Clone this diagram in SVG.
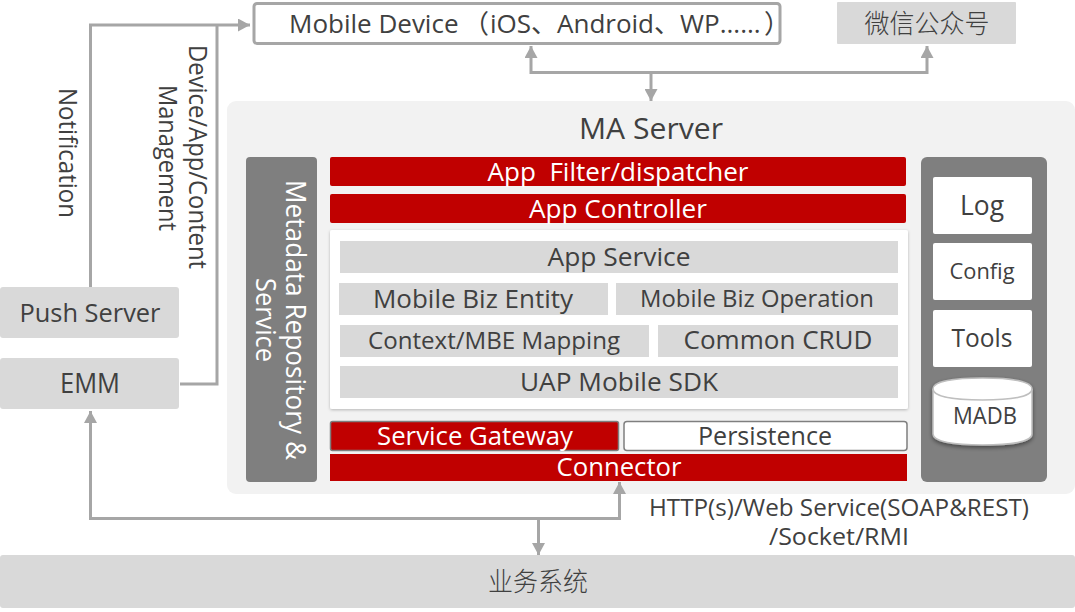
<svg xmlns="http://www.w3.org/2000/svg" width="1075" height="612" viewBox="0 0 1075 612" font-size="26">
<style>
text{font-family:"Open Sans","Noto Sans CJK SC",sans-serif;fill:#404040;text-anchor:middle}
.cjk{font-family:"Noto Sans CJK SC",sans-serif;font-weight:300}
.w{fill:#fff}
.g{fill:#d9d9d9}
.r{fill:#c00000}
.d{fill:#7f7f7f}
.line{fill:none;stroke:#a6a6a6;stroke-width:3}
</style>
<defs>
<marker id="a" markerUnits="userSpaceOnUse" markerWidth="13" markerHeight="13" refX="12" refY="6.500" orient="auto-start-reverse"><path d="M0 0L12 6.500L0 13Z" fill="#a6a6a6"/></marker>
<filter id="s" x="-5%" y="-5%" width="110%" height="112%"><feDropShadow dx="0" dy="1" stdDeviation="1.500" flood-color="#000" flood-opacity=".25"/></filter>
<filter id="s2" x="-8%" y="-8%" width="116%" height="120%"><feDropShadow dx="0" dy="2" stdDeviation="2" flood-color="#000" flood-opacity=".45"/></filter>
</defs>
<rect width="1075" height="612" fill="#fff"/>
<g id="ma-server"><rect x="227" y="101" width="848" height="393" rx="9" fill="#f2f2f2"/><text x="651" y="139" font-size="30" textLength="144" lengthAdjust="spacingAndGlyphs">MA Server</text></g>
<g id="connectors">
<path class="line" d="M90.500 287V25H250" marker-end="url(#a)"/>
<path class="line" d="M180 384H217V25"/>
<path class="line" d="M531 46V72.500H927V46" marker-start="url(#a)" marker-end="url(#a)"/>
<path class="line" d="M651 72V101" marker-end="url(#a)"/>
<path class="line" d="M90.500 411V518.500H619.500V482" marker-start="url(#a)" marker-end="url(#a)"/>
<path class="line" d="M538.500 519V555" marker-end="url(#a)"/>
</g>
<g id="mobile-device"><rect x="254" y="3.500" width="526" height="40" rx="3" fill="#fff" stroke="#a6a6a6" stroke-width="3"/><text style="text-anchor:start" y="33"><tspan x="289">Mobile Device</tspan><tspan x="463">（</tspan><tspan x="490">iOS、</tspan><tspan x="557">Android、WP......</tspan><tspan x="764">）</tspan></text></g>
<g id="wechat"><rect class="g" x="837" y="2" width="179" height="42" rx="1"/><text class="cjk" x="927" y="33" textLength="125" lengthAdjust="spacingAndGlyphs">微信公众号</text></g>
<g id="push-server"><rect class="g" x="0" y="287" width="179" height="51" rx="3"/><text x="90" y="322" textLength="141" lengthAdjust="spacingAndGlyphs">Push Server</text></g>
<g id="emm"><rect class="g" x="0" y="358" width="179" height="51" rx="3"/><text x="90" y="393" font-size="27" textLength="60" lengthAdjust="spacingAndGlyphs">EMM</text></g>
<g id="business"><rect class="g" x="0" y="555" width="1075" height="53" rx="3"/><text class="cjk" x="538" y="591" textLength="100" lengthAdjust="spacingAndGlyphs">业务系统</text></g>
<g id="edge-labels">
<text transform="translate(59 153) rotate(90)" font-size="25" textLength="130" lengthAdjust="spacingAndGlyphs">Notification</text>
<text transform="translate(189 157) rotate(90)" font-size="25" textLength="224" lengthAdjust="spacingAndGlyphs">Device/App/Content</text>
<text transform="translate(159 158) rotate(90)" font-size="25" textLength="146" lengthAdjust="spacingAndGlyphs">Management</text>
<text x="839" y="516" font-size="23" textLength="380" lengthAdjust="spacingAndGlyphs">HTTP(s)/Web Service(SOAP&amp;REST)</text>
<text x="839" y="545" font-size="23" textLength="140" lengthAdjust="spacingAndGlyphs">/Socket/RMI</text>
</g>
<g id="metadata"><rect class="d" x="246" y="157" width="71" height="325" rx="4"/>
<text class="w" transform="translate(286 320) rotate(90)" font-size="27" textLength="280" lengthAdjust="spacingAndGlyphs">Metadata Repository &amp;</text>
<text class="w" transform="translate(256 320) rotate(90)" font-size="27" textLength="84" lengthAdjust="spacingAndGlyphs">Service</text></g>
<g id="app-filter"><rect class="r" x="330" y="157" width="576" height="29" rx="2"/><text class="w" x="618" y="181" textLength="261" xml:space="preserve" lengthAdjust="spacingAndGlyphs">App  Filter/dispatcher</text></g>
<g id="app-controller"><rect class="r" x="330" y="194" width="576" height="29" rx="2"/><text class="w" x="618" y="218" textLength="178" lengthAdjust="spacingAndGlyphs">App Controller</text></g>
<g id="app-layer"><rect class="w" x="330" y="230" width="578" height="179" rx="2" filter="url(#s)"/></g>
<g id="app-service"><rect class="g" x="340" y="241" width="558" height="32"/><text x="619" y="266" textLength="143" lengthAdjust="spacingAndGlyphs">App Service</text></g>
<g id="mobile-biz-entity"><rect class="g" x="339" y="283" width="269" height="32"/><text x="473" y="308" textLength="200" lengthAdjust="spacingAndGlyphs">Mobile Biz Entity</text></g>
<g id="mobile-biz-operation"><rect class="g" x="616" y="283" width="282" height="32"/><text x="757" y="307" font-size="23" textLength="234" lengthAdjust="spacingAndGlyphs">Mobile Biz Operation</text></g>
<g id="context-mapping"><rect class="g" x="340" y="325" width="309" height="32"/><text x="494" y="349" font-size="23" textLength="252" lengthAdjust="spacingAndGlyphs">Context/MBE Mapping</text></g>
<g id="common-crud"><rect class="g" x="658" y="325" width="240" height="32"/><text x="778" y="349" textLength="189" lengthAdjust="spacingAndGlyphs">Common CRUD</text></g>
<g id="uap-sdk"><rect class="g" x="340" y="366" width="558" height="32"/><text x="619" y="391" textLength="198" lengthAdjust="spacingAndGlyphs">UAP Mobile SDK</text></g>
<g id="service-gateway"><rect class="r" x="330.500" y="421.500" width="288" height="29" rx="2" stroke="#7f7f7f" stroke-width="1.500"/><text class="w" x="475" y="445" textLength="196" lengthAdjust="spacingAndGlyphs">Service Gateway</text></g>
<g id="persistence"><rect class="w" x="624" y="421.500" width="283" height="29" rx="3" stroke="#7f7f7f" stroke-width="1.500"/><text x="765" y="445" textLength="134" lengthAdjust="spacingAndGlyphs">Persistence</text></g>
<g id="connector"><rect class="r" x="330" y="454" width="577" height="27"/><text class="w" x="619" y="476" textLength="125" lengthAdjust="spacingAndGlyphs">Connector</text></g>
<g id="tools-panel"><rect class="d" x="921" y="157" width="126" height="325" rx="6"/></g>
<g id="log"><rect class="w" x="933" y="177" width="99" height="57" rx="2"/><text x="982" y="215" font-size="28" textLength="44" lengthAdjust="spacingAndGlyphs">Log</text></g>
<g id="config"><rect class="w" x="933" y="243" width="99" height="57" rx="2"/><text x="982" y="279" font-size="22" textLength="65" lengthAdjust="spacingAndGlyphs">Config</text></g>
<g id="tools"><rect class="w" x="933" y="310" width="99" height="57" rx="2"/><text x="982" y="347" textLength="61" lengthAdjust="spacingAndGlyphs">Tools</text></g>
<g id="madb">
<path d="M933 389C933 381 955 378 982.500 378S1032 381 1032 389V434C1032 442 1010 445 982.500 445S933 442 933 434Z" fill="#fff" stroke="#bfbfbf" stroke-width="1.500" filter="url(#s2)"/>
<path d="M933 389C933 397 955 400 982.500 400S1032 397 1032 389" fill="none" stroke="#bfbfbf" stroke-width="1.500"/>
<text x="985" y="424" font-size="23" textLength="64" lengthAdjust="spacingAndGlyphs">MADB</text></g>
</svg>
